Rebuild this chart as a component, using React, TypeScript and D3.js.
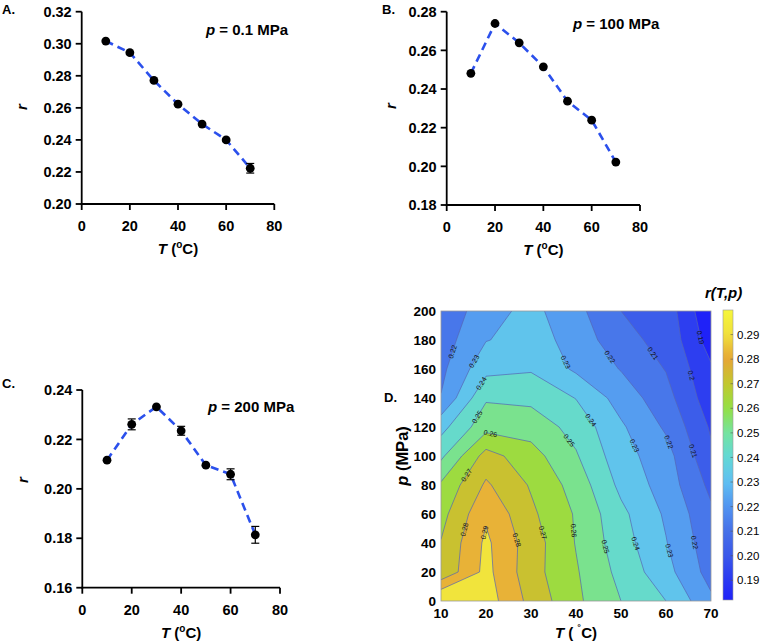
import React from 'react';
import * as d3 from 'd3';

// ---------- data ----------
const temps = [10, 20, 30, 40, 50, 60, 70];
const rA = [0.3017, 0.2944, 0.2771, 0.2623, 0.2499, 0.24, 0.2223];
const errA = [0, 0, 0, 0, 0, 0, 0.003];
const rB = [0.2481, 0.2739, 0.2639, 0.2515, 0.2337, 0.2239, 0.2022];
const errB = [0, 0, 0, 0, 0, 0, 0];
const rC = [0.2116, 0.2261, 0.2332, 0.2235, 0.2096, 0.2059, 0.1814];
const errC = [0, 0.0022, 0, 0.0018, 0, 0.0022, 0.0034];

const xTicksABC = [0, 20, 40, 60, 80];
const yTicksA = [0.2, 0.22, 0.24, 0.26, 0.28, 0.3, 0.32];
const yTicksB = [0.18, 0.2, 0.22, 0.24, 0.26, 0.28];
const yTicksC = [0.16, 0.18, 0.2, 0.22, 0.24];

// contour map r(T,p): rows for each pressure (MPa), columns for temps
const pressures = [0, 20, 40, 60, 80, 100, 120, 140, 160, 180, 200];
const rGrid = [
  [0.302, 0.295, 0.277, 0.262, 0.25, 0.24, 0.222],
  [0.272, 0.293, 0.274, 0.261, 0.247, 0.2335, 0.216],
  [0.2705, 0.292, 0.275, 0.2595, 0.2445, 0.2305, 0.214],
  [0.2665, 0.2885, 0.272, 0.259, 0.2425, 0.2285, 0.212],
  [0.2615, 0.2815, 0.269, 0.256, 0.2375, 0.2255, 0.2075],
  [0.248, 0.274, 0.264, 0.251, 0.234, 0.224, 0.202],
  [0.2366, 0.2566, 0.2558, 0.2465, 0.2315, 0.2185, 0.1987],
  [0.2205, 0.2488, 0.2475, 0.2397, 0.2258, 0.2138, 0.194],
  [0.2175, 0.2371, 0.239, 0.2283, 0.2195, 0.2095, 0.1915],
  [0.215, 0.2296, 0.2335, 0.227, 0.2125, 0.2075, 0.185],
  [0.212, 0.226, 0.233, 0.223, 0.21, 0.206, 0.181],
];
const contourLevels = [0.18, 0.19, 0.2, 0.21, 0.22, 0.23, 0.24, 0.25, 0.26, 0.27, 0.28, 0.29];
const xTicksD = [10, 20, 30, 40, 50, 60, 70];
const yTicksD = [0, 20, 40, 60, 80, 100, 120, 140, 160, 180, 200];
const cbTicks = [0.19, 0.2, 0.21, 0.22, 0.23, 0.24, 0.25, 0.26, 0.27, 0.28, 0.29];
const cbRange = [0.182, 0.3];

// ---------- style ----------
const FONT = "'Liberation Sans', Arial, Helvetica, sans-serif";
const cmapStopVals = [0.18, 0.19, 0.2, 0.21, 0.22, 0.23, 0.24, 0.25, 0.26, 0.27, 0.28, 0.29, 0.3];
const cmapStopCols = ['#1c1cfa', '#2a38f2', '#3a58ea', '#4670e8', '#5294f0', '#5fbff2', '#62d8d6',
  '#74e3a0', '#94e044', '#c2c82e', '#e6a636', '#f0e03c', '#f6f63a'];
const cmap = d3.scaleLinear<string>().domain(cmapStopVals).range(cmapStopCols).clamp(true);
const LINE_BLUE = '#2b50ec';

type PanelProps = {
  r: number[]; err: number[]; yTicks: number[];
  x0: number; x1: number; yTop: number; yBot: number;
  letter: string; letterX: number; letterY: number;
  pVal: string; pX: number; pY: number;
  rTitleX: number; rTitleY: number;
};

function LinePanel(p: PanelProps) {
  const xs = d3.scaleLinear().domain([0, 80]).range([p.x0, p.x1]);
  const ys = d3.scaleLinear().domain([p.yTicks[0], p.yTicks[p.yTicks.length - 1]]).range([p.yBot, p.yTop]);
  const line = d3.line<number>().x((_, i) => xs(temps[i])).y((d) => ys(d));
  const fmt = d3.format('.2f');
  return (
    <g fontFamily={FONT} fontWeight="bold">
      <path d={line(p.r) || ''} fill="none" stroke={LINE_BLUE} strokeWidth={2.6} strokeDasharray="8,5" />
      {p.r.map((v, i) => p.err[i] > 0 ? (
        <g key={'e' + i} stroke="#000" strokeWidth={1.2}>
          <line x1={xs(temps[i])} x2={xs(temps[i])} y1={ys(v - p.err[i])} y2={ys(v + p.err[i])} />
          <line x1={xs(temps[i]) - 4} x2={xs(temps[i]) + 4} y1={ys(v - p.err[i])} y2={ys(v - p.err[i])} />
          <line x1={xs(temps[i]) - 4} x2={xs(temps[i]) + 4} y1={ys(v + p.err[i])} y2={ys(v + p.err[i])} />
        </g>
      ) : null)}
      {p.r.map((v, i) => <circle key={'c' + i} cx={xs(temps[i])} cy={ys(v)} r={4.4} fill="#000" />)}
      {/* axes */}
      <line x1={p.x0} x2={p.x0} y1={p.yTop} y2={p.yBot + 0.9} stroke="#000" strokeWidth={1.8} />
      <line x1={p.x0 - 0.9} x2={p.x1} y1={p.yBot} y2={p.yBot} stroke="#000" strokeWidth={1.8} />
      {p.yTicks.map((t) => (
        <g key={'y' + t}>
          <line x1={p.x0 - 6} x2={p.x0} y1={ys(t)} y2={ys(t)} stroke="#000" strokeWidth={1.8} />
          <text x={p.x0 - 10} y={ys(t) + 5.2} fontSize={14.5} textAnchor="end">{fmt(t)}</text>
        </g>
      ))}
      {xTicksABC.map((t) => (
        <g key={'x' + t}>
          <line x1={xs(t)} x2={xs(t)} y1={p.yBot} y2={p.yBot + 6} stroke="#000" strokeWidth={1.8} />
          <text x={xs(t)} y={p.yBot + 27} fontSize={14.5} textAnchor="middle">{t}</text>
        </g>
      ))}
      <text x={(p.x0 + p.x1) / 2} y={p.yBot + 50} fontSize={15} textAnchor="middle">
        <tspan fontStyle="italic">T</tspan>
        <tspan> (</tspan>
        <tspan fontSize={10} dy={-6}>o</tspan>
        <tspan dy={6}>C)</tspan>
      </text>
      <text transform={`translate(${p.rTitleX},${p.rTitleY}) rotate(-90)`} fontSize={15} fontStyle="italic" textAnchor="middle" dy={5}>r</text>
      <text x={p.letterX} y={p.letterY} fontSize={13}>{p.letter}</text>
      <text x={p.pX} y={p.pY} fontSize={15}>
        <tspan fontStyle="italic">p</tspan>
        <tspan>{' = ' + p.pVal + ' MPa'}</tspan>
      </text>
    </g>
  );
}

function ContourPanel() {
  const nx = temps.length;
  const ny = pressures.length;
  const values = rGrid.flat();
  const xD = d3.scaleLinear().domain([10, 70]).range([441, 711]);
  const yD = d3.scaleLinear().domain([0, 200]).range([601, 311]);
  const gx = d3.scaleLinear().domain([0.5, nx - 0.5]).range([xD(temps[0]), xD(temps[nx - 1])]);
  const gy = d3.scaleLinear().domain([0.5, ny - 0.5]).range([yD(pressures[0]), yD(pressures[ny - 1])]);
  const contours = d3.contours().size([nx, ny]).thresholds(contourLevels)(values);
  const proj = d3.geoTransform({
    point(x: number, y: number) { (this as any).stream.point(gx(x), gy(y)); },
  });
  const path = d3.geoPath(proj as any);

  // contour labels along iso lines
  const labels: { x: number; y: number; a: number; t: string }[] = [];
  const inside = (pt: number[]) => pt[0] > 0.25 && pt[0] < nx - 0.25 && pt[1] > 0.25 && pt[1] < ny - 0.25;
  contours.forEach((c: any) => {
    if (c.value < 0.185) return;
    c.coordinates.forEach((poly: number[][][]) => {
      poly.forEach((ring0) => {
        let ring = ring0.slice();
        if (ring.length > 1 && ring[0][0] === ring[ring.length - 1][0] && ring[0][1] === ring[ring.length - 1][1]) ring.pop();
        const startIdx = ring.findIndex((pt) => !inside(pt));
        const runs: number[][][] = [];
        if (startIdx < 0) {
          runs.push([...ring, ring[0]]);
        } else {
          const rot = ring.slice(startIdx).concat(ring.slice(0, startIdx));
          let cur: number[][] = [];
          rot.forEach((pt) => {
            if (inside(pt)) cur.push(pt);
            else { if (cur.length > 1) runs.push(cur); cur = []; }
          });
          if (cur.length > 1) runs.push(cur);
        }
        runs.forEach((run) => {
          const px = run.map((pt) => [gx(pt[0]), gy(pt[1])]);
          const cum = [0];
          for (let i = 1; i < px.length; i++) cum.push(cum[i - 1] + Math.hypot(px[i][0] - px[i - 1][0], px[i][1] - px[i - 1][1]));
          const L = cum[cum.length - 1];
          if (L < 35) return;
          const n = Math.max(1, Math.round(L / 120));
          for (let k = 0; k < n; k++) {
            const s = ((k + 0.5) * L) / n;
            let j = 1;
            while (j < cum.length - 1 && cum[j] < s) j++;
            const f = (s - cum[j - 1]) / Math.max(1e-9, cum[j] - cum[j - 1]);
            const x = px[j - 1][0] + f * (px[j][0] - px[j - 1][0]);
            const y = px[j - 1][1] + f * (px[j][1] - px[j - 1][1]);
            let a = (Math.atan2(px[j][1] - px[j - 1][1], px[j][0] - px[j - 1][0]) * 180) / Math.PI;
            if (a > 90) a -= 180;
            if (a < -90) a += 180;
            labels.push({ x, y, a, t: String(Math.round(c.value * 100) / 100) });
          }
        });
      });
    });
  });

  const cbY = d3.scaleLinear().domain(cbRange).range([600, 310]);
  const gradStops = d3.range(0, 41).map((i) => cbRange[0] + (i / 40) * (cbRange[1] - cbRange[0]));

  return (
    <g fontFamily={FONT}>
      <defs>
        <clipPath id="dclip">
          <rect x={441} y={311} width={270} height={290} />
        </clipPath>
        <linearGradient id="cbgrad" x1="0" y1="1" x2="0" y2="0">
          {gradStops.map((v, i) => (
            <stop key={i} offset={i / 40} stopColor={cmap(v)} />
          ))}
        </linearGradient>
      </defs>
      <g clipPath="url(#dclip)">
        {contours.map((c: any, i: number) => (
          <path key={'f' + i} d={path(c) || ''} fill={cmap(c.value + 0.002)} fillRule="evenodd" stroke="none" />
        ))}
        {contours.map((c: any, i: number) => c.value > 0.185 ? (
          <path key={'s' + i} d={path(c) || ''} fill="none" stroke="#5566b4" strokeWidth={0.7} />
        ) : null)}
        {labels.map((l, i) => (
          <text key={'l' + i} transform={`translate(${l.x},${l.y}) rotate(${l.a})`} fontSize={7} textAnchor="middle" dy={2.4} fill="#111">{l.t}</text>
        ))}
      </g>
      <rect x={441} y={311} width={270} height={290} fill="none" stroke="#9a9a9a" strokeWidth={0.8} />
      <g fontWeight="bold">
        {yTicksD.map((t) => (
          <text key={'dy' + t} x={436} y={yD(t) + 4.8} fontSize={13.5} textAnchor="end">{t}</text>
        ))}
        {xTicksD.map((t) => (
          <text key={'dx' + t} x={xD(t)} y={618} fontSize={13.5} textAnchor="middle">{t}</text>
        ))}
        <text x={576} y={638} fontSize={15} textAnchor="middle">
          <tspan fontStyle="italic">T</tspan>
          <tspan> ( </tspan>
          <tspan fontSize={11} dy={-5}>˚</tspan>
          <tspan dy={5}>C)</tspan>
        </text>
        <text transform="translate(402,456) rotate(-90)" fontSize={16.5} textAnchor="middle" dy={5.5}>
          <tspan fontStyle="italic">p</tspan>
          <tspan> (MPa)</tspan>
        </text>
        <text x={384} y={402} fontSize={13}>D.</text>
        <text x={705} y={298} fontSize={15} fontStyle="italic">r(T,p)</text>
      </g>
      {/* colorbar */}
      <rect x={723} y={310} width={10} height={290} fill="url(#cbgrad)" stroke="#9a9a9a" strokeWidth={0.6} />
      {cbTicks.map((t) => (
        <g key={'cb' + t}>
          <line x1={730.5} x2={733} y1={cbY(t)} y2={cbY(t)} stroke="#555" strokeWidth={0.6} />
          <text x={737} y={cbY(t) + 4.1} fontSize={11.5}>{t.toFixed(2)}</text>
        </g>
      ))}
    </g>
  );
}

export default function App() {
  return (
    <svg width={761} height={644} style={{ position: 'absolute', left: 0, top: 0, background: '#fff' }}>
      <rect width={761} height={644} fill="#fff" />
      <LinePanel r={rA} err={errA} yTicks={yTicksA} x0={81.7} x1={274.3} yTop={11.7} yBot={204}
        letter="A." letterX={2} letterY={14} pVal="0.1" pX={206} pY={35} rTitleX={22} rTitleY={107} />
      <LinePanel r={rB} err={errB} yTicks={yTicksB} x0={446.7} x1={640} yTop={11.7} yBot={205}
        letter="B." letterX={382} letterY={14} pVal="100" pX={573} pY={29} rTitleX={391} rTitleY={106} />
      <LinePanel r={rC} err={errC} yTicks={yTicksC} x0={82.3} x1={280} yTop={390} yBot={587.7}
        letter="C." letterX={2} letterY={388} pVal="200" pX={208} pY={412} rTitleX={23} rTitleY={480} />
      <ContourPanel />
    </svg>
  );
}
